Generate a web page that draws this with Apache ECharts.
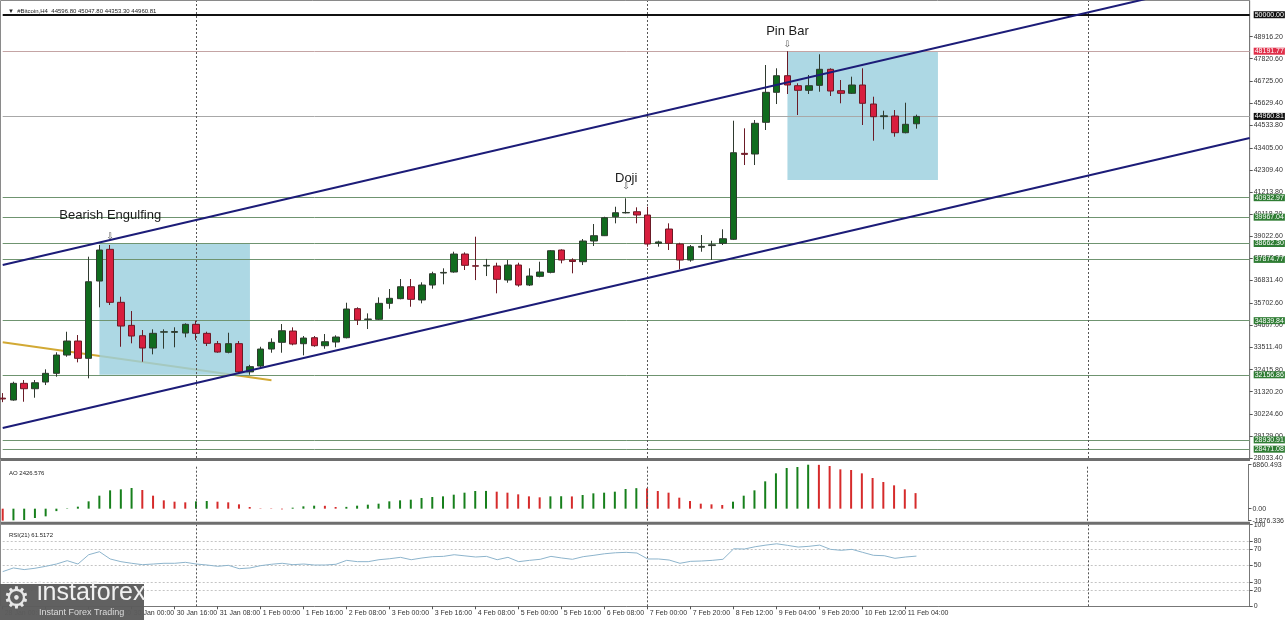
<!DOCTYPE html>
<html>
<head>
<meta charset="utf-8">
<title>#Bitcoin,H4</title>
<script src="https://cdn.jsdelivr.net/npm/echarts@6/dist/echarts.min.js"></script>
<style>
  html, body { margin: 0; padding: 0; background: #fff; }
  #chart { width: 1287px; height: 620px; }
</style>
</head>
<body>
<div id="chart"></div>
<script>
// H4 slots on the x axis (86 candles + empty space on the right)
const slotCount = 117;
const xTickIdx = [0, 4, 8, 12, 16, 20, 24, 28, 32, 36, 40, 44, 48, 52, 56, 60, 64, 68, 72, 76, 80, 84];
const xTickLabels = ['28 Jan 00:00', '28 Jan 16:00', '29 Jan 08:00', '30 Jan 00:00', '30 Jan 16:00', '31 Jan 08:00',
  '1 Feb 00:00', '1 Feb 16:00', '2 Feb 08:00', '3 Feb 00:00', '3 Feb 16:00', '4 Feb 08:00', '5 Feb 00:00',
  '5 Feb 16:00', '6 Feb 08:00', '7 Feb 00:00', '7 Feb 20:00', '8 Feb 12:00', '9 Feb 04:00', '9 Feb 20:00',
  '10 Feb 12:00', '11 Feb 04:00'];

// candles
const opens = [31000, 30906, 31733, 31466, 31798, 32229, 33136, 33830, 32972, 36803,
  38374, 35748, 34607, 34093, 33483, 34270, 34260, 34226, 34657, 34210,
  33700, 33270, 33700, 32300, 32590, 33433, 33765, 34325, 33697, 33994,
  33597, 33780, 33994, 35433, 34900, 34905, 35698, 35929, 36521, 35863,
  36605, 37200, 37250, 38141, 37560, 37550, 37547, 36853, 37596, 36605,
  37034, 37233, 38340, 37844, 37760, 38786, 39050, 39989, 40180, 40237,
  40074, 38670, 39380, 38637, 37844, 38480, 38560, 38670, 38870, 43130,
  43097, 44668, 46155, 46978, 46483, 46254, 46500, 47295, 46234, 46105,
  46517, 45575, 44950, 44980, 44153, 44596.80];
const highs = [31250, 31813, 31897, 31897, 32427, 33270, 34291, 34127, 38008, 38588,
  38588, 36025, 35316, 34375, 34410, 34410, 34510, 34707, 34836, 34291,
  33830, 34241, 33830, 32650, 33547, 33963, 34672, 34508, 34078, 34078,
  34177, 34112, 35728, 35500, 35200, 35995, 36407, 36903, 36903, 36740,
  37264, 37433, 38256, 38224, 39000, 37900, 37710, 37844, 37710, 37433,
  37760, 38340, 38374, 37929, 38885, 39628, 39989, 40485, 40902, 40455,
  40485, 38800, 39662, 38700, 38588, 39083, 38800, 39366, 44748, 44371,
  44782, 47508, 47345, 48191.77, 46601, 47013, 48039, 47345, 46765, 46930,
  47345, 45937, 45243, 45278, 45640, 45047.80];
const lows = [30800, 30871, 30822, 31020, 31649, 32061, 33052, 32773, 31981, 35500,
  35614, 33547, 33716, 32804, 33170, 33450, 33520, 34013, 33879, 33582,
  33250, 33220, 32200, 32160, 32450, 33250, 33250, 33617, 33121, 33547,
  33448, 33518, 33963, 34623, 34425, 34871, 35430, 35896, 35529, 35698,
  36423, 36640, 37215, 37349, 36850, 37050, 36194, 36719, 36522, 36556,
  36986, 37185, 37680, 37185, 37596, 38538, 39033, 39662, 40150, 39662,
  38505, 38505, 38340, 37380, 37760, 38255, 37844, 38588, 38835, 42552,
  42552, 44287, 45575, 46071, 45030, 46071, 46185, 45972, 45610, 46071,
  44535, 43757, 44321, 43955, 44123, 44353.30];
const closes = [30960, 31733, 31466, 31763, 32229, 33136, 33830, 32972, 36769, 38340,
  35748, 34573, 34077, 33483, 34211, 34290, 34300, 34657, 34210, 33716,
  33284, 33700, 32300, 32560, 33433, 33765, 34340, 33681, 33978, 33597,
  33796, 34028, 35416, 34871, 34920, 35698, 35946, 36521, 35896, 36605,
  37165, 37230, 38141, 37581, 37540, 37580, 36887, 37596, 36605, 37051,
  37249, 38305, 37844, 37770, 38786, 39050, 39940, 40188, 40200, 40074,
  38637, 38740, 38670, 37844, 38505, 38520, 38600, 38900, 43162, 43080,
  44619, 46155, 46978, 46517, 46254, 46483, 47295, 46220, 46105, 46517,
  45610, 44946, 44990, 44153, 44570, 44960.81];

// Awesome Oscillator
const aoValues = [-1876.336, -1820, -1768, -1456, -1196, -380, 60, 312, 1144, 2028,
  2860, 3016, 3224, 2912, 2028, 1300, 1092, 988, 1144, 1196,
  1092, 988, 676, 260, 52, -52, -104, 156, 364, 468,
  450, 260, 280, 468, 624, 780, 1144, 1300, 1404, 1664,
  1820, 1924, 2184, 2496, 2756, 2770, 2652, 2496, 2236, 1924,
  1768, 1924, 1940, 1910, 2132, 2392, 2496, 2652, 3068, 3200,
  3170, 2756, 2496, 1716, 1196, 780, 676, 572, 1092, 2028,
  2860, 4264, 5512, 6344, 6500, 6860.493, 6840, 6656, 6136, 6032,
  5512, 4784, 4160, 3640, 3016, 2426.576];

// RSI(21)
const rsiValues = [42.5, 47, 45, 46.6, 49, 51.8, 55.9, 51.8, 63.2, 66.9,
  58, 54.7, 52.7, 51, 51.8, 52.7, 52.7, 53.9, 51.8, 50.6,
  49, 50.2, 46.1, 47, 49.8, 51.5, 52.7, 51, 51.8, 50.6,
  50.6, 51.5, 56.3, 54.7, 54.7, 57.1, 58.3, 60, 57.1, 59.2,
  60.8, 61.2, 63.2, 61.8, 60.4, 61.2, 57.1, 60, 54.7, 56.3,
  57.6, 61.2, 59.2, 57.6, 60.8, 62.5, 64.4, 65.6, 66.1, 65.3,
  58, 58, 56.7, 52.7, 55.1, 55.5, 56.3, 57.6, 70.5, 70.2,
  73, 75, 76.6, 74.7, 72.6, 73.5, 75, 69.8, 68.6, 69.8,
  66.1, 62.5, 62, 58.8, 60.4, 61.5172];

// axis ticks
const priceTicks = [48916.20, 47820.60, 46725.00, 45629.40, 44533.80, 43405.00, 42309.40, 41213.80,
  40118.20, 39022.60, 37927.00, 36831.40, 35702.60, 34607.00, 33511.40, 32415.80, 31320.20,
  30224.60, 29129.00, 28033.40];
const aoTicks = [-1876.336, 0, 6860.493];
const rsiTicks = [0, 20, 30, 50, 70, 80, 100];
const rsiLevels = [20, 30, 50, 70, 80];

// drawn objects
const greenLevels = [40932.97, 39967.04, 38662.30, 37874.77, 34839.84, 32156.86, 28930.91, 28471.08];
const roundLevel = 50000;
const pinHighLevel = 48191.77;
const lastPrice = 44960.81;
const weekSeparators = [18, 60, 101];
const channelUpper = [[0, 37602], [116, 51978]];
const channelLower = [[0, 29519], [116, 43895]];
const yellowLine = [[0, 33775], [25, 31887]];
const boxes = [[9, 38662.30, 23, 32156.86], [73, 48191.77, 87, 41809]];
const noteIdx = [10, 58, 73];
const noteText = ['Bearish Engulfing', 'Doji', 'Pin Bar'];
const notePrice = [40074, 41908, 49193];
const arrowPrice = [38984, 41462, 48499];

const FONT = 'Liberation Sans, Arial, sans-serif';
const categories = Array.from({ length: slotCount }, (_, i) => String(i));
const tickMap = {};
xTickIdx.forEach((idx, k) => { tickMap[idx] = xTickLabels[k]; });

const candleData = opens.map((o, i) => [o, closes[i], lows[i], highs[i]]);
const aoData = aoValues.map((v, i) => ({
  value: v,
  itemStyle: { color: i > 0 && v > aoValues[i - 1] ? '#17801c' : '#d62b2b' }
}));

const gridSide = { left: 2.7, right: 37.3 };

const levelLine = (value, lineColor, lineWidth, bg) => ({
  yAxis: value,
  lineStyle: { color: lineColor, width: lineWidth, type: 'solid' },
  label: {
    show: true, position: 'end', distance: 4,
    formatter: value.toFixed(2),
    color: '#fff', backgroundColor: bg,
    fontSize: 7, fontFamily: FONT, lineHeight: 7, padding: [0, 1, 0, 1]
  }
});

const separatorMarkLine = {
  silent: true, symbol: 'none', z: 2.8,
  label: { show: false },
  lineStyle: { color: '#555', type: [2, 2], width: 1 },
  data: weekSeparators.map(v => ({ xAxis: v }))
};

const xAxisBase = (gridIndex, show) => ({
  type: 'category', gridIndex, data: categories, boundaryGap: false,
  axisLine: { show: show, lineStyle: { color: '#777' } },
  axisTick: {
    show: show, length: 3, lineStyle: { color: '#555' },
    interval: (index) => tickMap[index] !== undefined
  },
  axisLabel: {
    show: show, align: 'left', margin: 3, padding: [0, 0, 0, 2],
    fontSize: 7, fontFamily: FONT, color: '#333',
    interval: (index) => tickMap[index] !== undefined,
    formatter: (val, index) => tickMap[index] || ''
  },
  splitLine: { show: false }
});

const yAxisBase = (gridIndex, min, max, ticks, fmt) => ({
  type: 'value', gridIndex, position: 'right', min, max,
  axisLine: { show: true, lineStyle: { color: '#777' } },
  axisTick: { show: true, length: 3, customValues: ticks, lineStyle: { color: '#555' } },
  axisLabel: {
    customValues: ticks, margin: 4, fontSize: 7, fontFamily: FONT, color: '#333',
    formatter: fmt
  },
  splitLine: { show: false }
});

const chart = echarts.init(document.getElementById('chart'));
chart.setOption({
  animation: false,
  backgroundColor: '#fff',
  title: [
    { text: '▼  #Bitcoin,H4  ' + [opens[85], highs[85], lows[85], closes[85]].map(v => v.toFixed(2)).join(' '),
      left: 3, top: 3, textStyle: { fontSize: 6, fontWeight: 'normal', color: '#222', fontFamily: FONT } },
    { text: 'AO ' + aoValues[aoValues.length - 1].toFixed(3),
      left: 4, top: 465, textStyle: { fontSize: 6, fontWeight: 'normal', color: '#222', fontFamily: FONT } },
    { text: 'RSI(21) ' + rsiValues[rsiValues.length - 1].toFixed(4),
      left: 4, top: 527, textStyle: { fontSize: 6, fontWeight: 'normal', color: '#222', fontFamily: FONT } }
  ],
  grid: [
    Object.assign({ top: 1, height: 457 }, gridSide),
    Object.assign({ top: 464.7, height: 56 }, gridSide),
    Object.assign({ top: 524.7, height: 81.6 }, gridSide)
  ],
  xAxis: [xAxisBase(0, false), xAxisBase(1, false), xAxisBase(2, true)],
  yAxis: [
    yAxisBase(0, 28033.4, 50680, priceTicks, v => v.toFixed(2)),
    yAxisBase(1, -1876.336, 6860.493, aoTicks, v => (v === 0 ? '0.00' : v.toFixed(3))),
    yAxisBase(2, 0, 100, rsiTicks, v => String(v))
  ],
  series: [
    {
      name: 'yellow', type: 'line', xAxisIndex: 0, yAxisIndex: 0, data: yellowLine, z: 2,
      symbol: 'none', lineStyle: { color: '#d2a934', width: 2 }
    },
    {
      name: 'boxes', type: 'line', xAxisIndex: 0, yAxisIndex: 0, data: [], z: 2,
      markArea: {
        silent: true, z: 2.5,
        itemStyle: { color: 'rgba(155, 208, 222, 0.82)' },
        data: boxes.map(b => [{ coord: [b[0], b[1]] }, { coord: [b[2], b[3]] }])
      }
    },
    {
      name: 'levels', type: 'line', xAxisIndex: 0, yAxisIndex: 0, data: [], z: 2,
      markLine: {
        silent: true, symbol: 'none', z: 2.8,
        data: [
          levelLine(roundLevel, '#111', 2, '#111'),
          levelLine(pinHighLevel, '#c4a4a4', 1, '#e0304a'),
          levelLine(lastPrice, '#a8a8a8', 1, '#111')
        ].concat(greenLevels.map(v => levelLine(v, '#6f9470', 1, '#2f7d34')))
      },
      markPoint: {
        silent: true, symbol: 'circle', symbolSize: 0, z: 6,
        data: noteIdx.map((idx, k) => ({
          coord: [idx, notePrice[k]], name: noteText[k],
          label: { show: true, position: 'inside', formatter: '{b}', color: '#1a1a1a', fontSize: 13, fontFamily: FONT }
        })).concat(noteIdx.map((idx, k) => ({
          coord: [idx, arrowPrice[k]], name: '⇩',
          label: { show: true, position: 'inside', formatter: '{b}', color: '#555', fontSize: 9, fontFamily: 'DejaVu Sans' }
        })))
      }
    },
    {
      name: 'separators', type: 'line', xAxisIndex: 0, yAxisIndex: 0, data: [],
      markLine: separatorMarkLine
    },
    {
      name: 'candles', type: 'candlestick', xAxisIndex: 0, yAxisIndex: 0, z: 3,
      barWidth: 7,
      data: candleData,
      itemStyle: {
        color: '#106b1e', color0: '#d81e3e',
        borderColor: '#2f3a2f', borderColor0: '#6b1a26', borderWidth: 1
      }
    },
    {
      name: 'upper', type: 'line', xAxisIndex: 0, yAxisIndex: 0, data: channelUpper, z: 4,
      symbol: 'none', lineStyle: { color: '#1c1c78', width: 2 }
    },
    {
      name: 'lower', type: 'line', xAxisIndex: 0, yAxisIndex: 0, data: channelLower, z: 4,
      symbol: 'none', lineStyle: { color: '#1c1c78', width: 2 }
    },
    {
      name: 'AO', type: 'bar', xAxisIndex: 1, yAxisIndex: 1, barWidth: 2,
      data: aoData,
      markLine: separatorMarkLine
    },
    {
      name: 'RSI', type: 'line', xAxisIndex: 2, yAxisIndex: 2, symbol: 'none',
      data: rsiValues,
      lineStyle: { color: '#8db4cc', width: 1 },
      markLine: {
        silent: true, symbol: 'none', z: 2, label: { show: false },
        lineStyle: { color: '#c4c4c4', type: [2, 2], width: 1 },
        data: rsiLevels.map(v => ({ yAxis: v })).concat(weekSeparators.map(v => ({
          xAxis: v, lineStyle: { color: '#555', type: [2, 2], width: 1 }
        })))
      }
    }
  ],
  graphic: [
    { type: 'rect', silent: true, shape: { x: 0.5, y: 0.5, width: 1249.2, height: 458 },
      style: { fill: 'none', stroke: '#8a8a8a', lineWidth: 1 } },
    { type: 'line', silent: true, shape: { x1: 0, y1: 459.5, x2: 1250, y2: 459.5 },
      style: { stroke: '#6e6e6e', lineWidth: 3 } },
    { type: 'line', silent: true, shape: { x1: 0, y1: 523.2, x2: 1250, y2: 523.2 },
      style: { stroke: '#6e6e6e', lineWidth: 3 } },
    { type: 'line', silent: true, shape: { x1: 0.5, y1: 459, x2: 0.5, y2: 606 },
      style: { stroke: '#8a8a8a', lineWidth: 1 } },
    // watermark logo, bottom left
    { type: 'rect', silent: true, z: 100, shape: { x: 0, y: 584, width: 144, height: 36 },
      style: { fill: 'rgba(92,92,92,0.97)' } },
    { type: 'text', silent: true, z: 101, x: 3, y: 585, style: { text: '⚙', font: '30px DejaVu Sans', fill: '#e8e8e8' } },
    { type: 'text', silent: true, z: 101, x: 37, y: 581, style: { text: 'instaforex', font: '25px ' + FONT, fill: '#f0f0f0' } },
    { type: 'text', silent: true, z: 101, x: 39, y: 608, style: { text: 'Instant Forex Trading', font: '9px ' + FONT, fill: '#dcdcdc' } }
  ]
});
</script>
</body>
</html>
